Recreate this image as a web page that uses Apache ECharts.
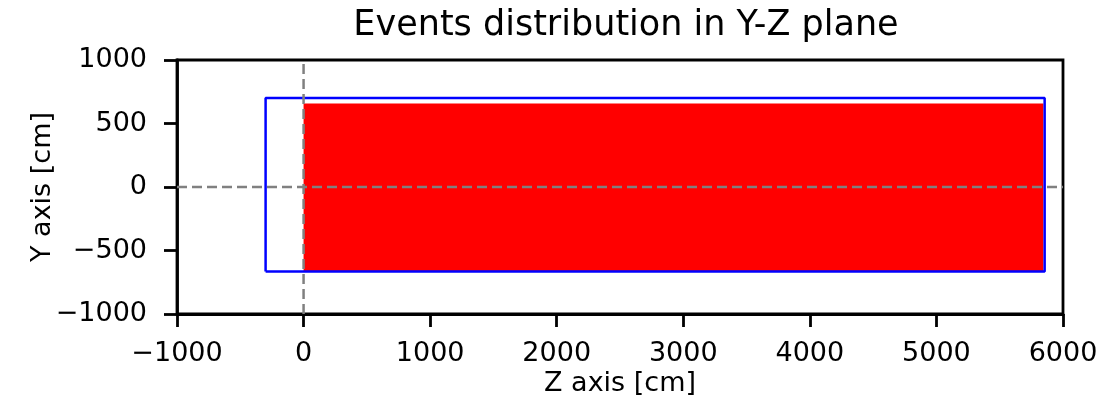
<!DOCTYPE html>
<html>
<head>
<meta charset="utf-8">
<script src="https://cdn.jsdelivr.net/npm/echarts@6/dist/echarts.min.js"></script>
<style>
  html, body { margin: 0; padding: 0; background: #fff; }
  #chart { width: 1107px; height: 400px; }
</style>
</head>
<body>
<div id="chart"></div>
<script>
// Axis ranges and ticks
const zTicks = [-1000, 0, 1000, 2000, 3000, 4000, 5000, 6000];
const yTicks = [-1000, -500, 0, 500, 1000];

// Region filled by the recorded events (Z range, Y range) [cm]
const eventsZ = [0, 5845];
const eventsY = [-670, 658];

// Detector outline (Z range, Y range) [cm]
const detectorZ = [-300, 5855];
const detectorY = [-665, 700];

// Reference lines through the origin
const originZ = 0;
const originY = 0;

const FONT = 'DejaVu Sans';
const minus = v => String(v).replace('-', '\u2212');

const outline = [
  [detectorZ[0], detectorY[0]],
  [detectorZ[1], detectorY[0]],
  [detectorZ[1], detectorY[1]],
  [detectorZ[0], detectorY[1]],
  [detectorZ[0], detectorY[0]]
];

const chart = echarts.init(document.getElementById('chart'), null, { renderer: 'canvas' });

const axisCommon = {
  type: 'value',
  splitLine: { show: false },
  nameMoveOverlap: false,
  axisLine: { show: true, onZero: false, lineStyle: { color: '#000', width: 2.8 } },
  axisTick: { show: true, inside: false, length: 13, lineStyle: { color: '#000', width: 2.8 } },
  axisLabel: { color: '#000', fontSize: 27, fontFamily: FONT, formatter: minus },
  nameTextStyle: { color: '#000', fontSize: 27, fontFamily: FONT }
};

chart.setOption({
  animation: false,
  backgroundColor: '#fff',
  title: {
    text: 'Events distribution in Y-Z plane',
    left: 621,
    top: 3,
    textAlign: 'center',
    textStyle: { color: '#000', fontSize: 35, fontWeight: 'normal', fontFamily: FONT }
  },
  grid: {
    left: 177, right: 44, top: 60, bottom: 86,
    outerBoundsMode: 'none',
    containLabel: false,
    show: true, borderColor: '#000', borderWidth: 2.8, backgroundColor: 'transparent'
  },
  xAxis: Object.assign({}, axisCommon, {
    min: zTicks[0], max: zTicks[zTicks.length - 1], interval: 1000,
    name: 'Z axis [cm]', nameLocation: 'middle', nameGap: 56,
    axisLabel: Object.assign({}, axisCommon.axisLabel, { margin: 26 })
  }),
  yAxis: Object.assign({}, axisCommon, {
    min: yTicks[0], max: yTicks[yTicks.length - 1], interval: 500,
    name: 'Y axis [cm]', nameLocation: 'middle', nameGap: 121, nameRotate: 90,
    axisLabel: Object.assign({}, axisCommon.axisLabel, { margin: 30 })
  }),
  series: [
    {
      // events region
      type: 'custom',
      z: 1,
      data: [[eventsZ[0], eventsY[0], eventsZ[1], eventsY[1]]],
      renderItem: function (params, api) {
        const p0 = api.coord([api.value(0), api.value(1)]);
        const p1 = api.coord([api.value(2), api.value(3)]);
        return {
          type: 'rect',
          shape: {
            x: Math.min(p0[0], p1[0]), y: Math.min(p0[1], p1[1]),
            width: Math.abs(p1[0] - p0[0]), height: Math.abs(p1[1] - p0[1])
          },
          style: { fill: '#ff0000' }
        };
      }
    },
    {
      // detector outline
      type: 'line',
      z: 2,
      data: outline,
      symbol: 'none',
      lineStyle: { color: '#0000ff', width: 2.5 }
    },
    {
      // Z = 0
      type: 'line',
      z: 3,
      data: [[originZ, yTicks[0]], [originZ, yTicks[yTicks.length - 1]]],
      symbol: 'none',
      lineStyle: { color: '#808080', width: 2.5, type: [10, 5] }
    },
    {
      // Y = 0
      type: 'line',
      z: 3,
      data: [[zTicks[0], originY], [zTicks[zTicks.length - 1], originY]],
      symbol: 'none',
      lineStyle: { color: '#808080', width: 2.5, type: [10, 5] }
    }
  ]
});
</script>
</body>
</html>
